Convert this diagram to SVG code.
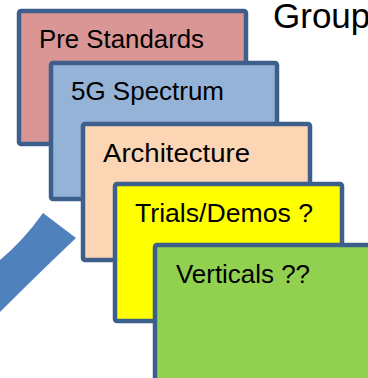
<svg xmlns="http://www.w3.org/2000/svg" width="368" height="378" viewBox="0 0 368 378">
<style>
.box{stroke:#3D5F8C;stroke-width:4.5;stroke-linejoin:round}
.lbl{font-family:"Liberation Sans",Arial,sans-serif;font-size:25px;fill:#000}
</style>
<rect width="368" height="378" fill="#fff"/>
<g id="connectors">
<path d="M43,213 L76,238 Q40,272 0,312 L0,260 Q24,240 43,213 Z" fill="#4F81BD"/>
</g>
<g id="pre-standards">
<rect class="box" x="19" y="11" width="227" height="133" rx="2" fill="#D99694"/>
<text class="lbl" x="39" y="48" textLength="165" lengthAdjust="spacingAndGlyphs">Pre Standards</text>
</g>
<g id="spectrum">
<rect class="box" x="51" y="63" width="226" height="136" rx="2" fill="#95B3D7"/>
<text class="lbl" x="71" y="100" textLength="153" lengthAdjust="spacingAndGlyphs">5G Spectrum</text>
</g>
<g id="architecture">
<rect class="box" x="83" y="124" width="227" height="136" rx="2" fill="#FCD5B5"/>
<text class="lbl" x="103" y="161.5" textLength="147" lengthAdjust="spacingAndGlyphs">Architecture</text>
</g>
<g id="trials">
<rect class="box" x="115" y="184" width="227" height="137" rx="2" fill="#FFFF00"/>
<text class="lbl" x="135" y="221.5" textLength="178" lengthAdjust="spacingAndGlyphs">Trials/Demos ?</text>
</g>
<g id="verticals">
<rect class="box" x="155" y="245" width="300" height="200" rx="2" fill="#92D050"/>
<text class="lbl" x="176" y="282.5" textLength="134" lengthAdjust="spacingAndGlyphs">Verticals ??</text>
</g>
<g id="group-title">
<text x="273" y="28" style="font-family:'Liberation Sans',Arial,sans-serif;font-size:35px;fill:#000">Group</text>
</g>
</svg>
